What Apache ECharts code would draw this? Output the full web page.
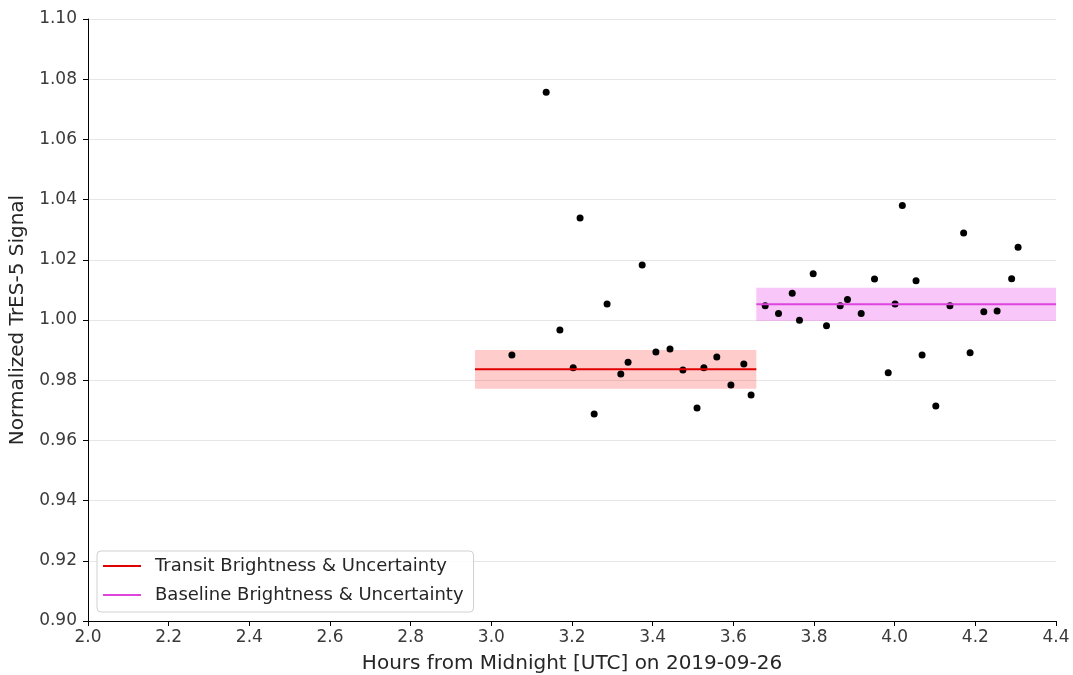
<!DOCTYPE html>
<html>
<head>
<meta charset="utf-8">
<script src="https://cdn.jsdelivr.net/npm/echarts@6/dist/echarts.min.js"></script>
<style>html,body{margin:0;padding:0;background:#fff}#chart{width:1073px;height:675px}</style>
</head>
<body>
<div id="chart"></div>
<script>
// Data
const transitX = [3.051, 3.136, 3.170, 3.203, 3.220, 3.255, 3.287, 3.321, 3.339, 3.374, 3.408, 3.443, 3.475, 3.510, 3.527, 3.559, 3.594, 3.626, 3.644];
const transitY = [0.9884, 1.0757, 0.9967, 0.9841, 1.0339, 0.9688, 1.0053, 0.9821, 0.9860, 1.0183, 0.9894, 0.9904, 0.9834, 0.9708, 0.9841, 0.9877, 0.9784, 0.9854, 0.9751];
const baselineX = [3.679, 3.712, 3.746, 3.764, 3.798, 3.831, 3.865, 3.883, 3.917, 3.950, 3.984, 4.001, 4.019, 4.053, 4.068, 4.102, 4.137, 4.171, 4.187, 4.221, 4.254, 4.290, 4.306];
const baselineY = [1.0047, 1.0022, 1.0089, 0.9999, 1.0154, 0.9981, 1.0047, 1.0068, 1.0022, 1.0136, 0.9825, 1.0053, 1.0380, 1.0130, 0.9884, 0.9714, 1.0047, 1.0289, 0.9891, 1.0027, 1.0030, 1.0137, 1.0242];
const transitMean = 0.9836, transitErr = 0.0064, transitStart = 2.9595, transitEnd = 3.657;
const baselineMean = 1.0052, baselineErr = 0.0055, baselineStart = 3.657, baselineEnd = 4.4;
const xTicks = [2.0, 2.2, 2.4, 2.6, 2.8, 3.0, 3.2, 3.4, 3.6, 3.8, 4.0, 4.2, 4.4];
const yTicks = [0.90, 0.92, 0.94, 0.96, 0.98, 1.00, 1.02, 1.04, 1.06, 1.08, 1.10];
const xLabel = 'Hours from Midnight [UTC] on 2019-09-26';
const yLabel = 'Normalized TrES-5 Signal';
const transitName = 'Transit Brightness & Uncertainty';
const baselineName = 'Baseline Brightness & Uncertainty';

const FONT = 'DejaVu Sans';
const points = transitX.map((x, i) => [x, transitY[i]]).concat(baselineX.map((x, i) => [x, baselineY[i]]));

const chart = echarts.init(document.getElementById('chart'), null, {renderer: 'canvas'});
chart.setOption({
  animation: false,
  backgroundColor: '#fff',
  grid: {left: 88, right: 17, top: 19, bottom: 54, containLabel: false, outerBoundsMode: 'none'},
  xAxis: {
    type: 'value', min: xTicks[0], max: xTicks[xTicks.length - 1], interval: 0.2,
    name: xLabel, nameLocation: 'middle', nameGap: 33,
    nameTextStyle: {fontFamily: FONT, fontSize: 20, color: '#262626'},
    axisLine: {show: true, onZero: false, lineStyle: {color: '#000', width: 1}},
    axisTick: {show: true, inside: false, length: 5, lineStyle: {color: '#000'}},
    axisLabel: {fontFamily: FONT, fontSize: 17, color: '#3a3a3a', margin: 8, formatter: v => v.toFixed(1)},
    splitLine: {show: false}
  },
  yAxis: {
    type: 'value', min: yTicks[0], max: yTicks[yTicks.length - 1], interval: 0.02,
    name: yLabel, nameLocation: 'middle', nameGap: 57, nameRotate: 90,
    nameTextStyle: {fontFamily: FONT, fontSize: 20, color: '#262626'},
    axisLine: {show: true, onZero: false, lineStyle: {color: '#000', width: 1}},
    axisTick: {show: true, inside: false, length: 5, lineStyle: {color: '#000'}},
    axisLabel: {fontFamily: FONT, fontSize: 17, color: '#3a3a3a', margin: 11, formatter: v => v.toFixed(2)},
    splitLine: {show: true, lineStyle: {color: '#e6e6e6', width: 1}}
  },
  legend: {
    left: 97, top: 551, orient: 'vertical',
    data: [transitName, baselineName],
    icon: 'rect', itemWidth: 38, itemHeight: 2, itemGap: 7,
    padding: [4, 10, 6, 6],
    borderColor: '#d0d0d0', borderWidth: 1, borderRadius: 4,
    backgroundColor: 'rgba(255,255,255,0.85)',
    textStyle: {fontFamily: FONT, fontSize: 18, color: '#262626', lineHeight: 22, padding: [0, 0, 0, 9]}
  },
  series: [
    {
      type: 'scatter', name: 'data', data: points, symbol: 'circle', symbolSize: 7,
      itemStyle: {color: '#000', opacity: 1}, z: 1, silent: true
    },
    {
      type: 'line', name: transitName, z: 3, symbol: 'none', showSymbol: false,
      data: [[transitStart, transitMean], [transitEnd, transitMean]],
      lineStyle: {color: '#e00000', width: 2}, itemStyle: {color: '#e00000'},
      markArea: {
        silent: true,
        itemStyle: {color: 'rgba(255,0,0,0.2)'},
        data: [[{coord: [transitStart, transitMean + transitErr]}, {coord: [transitEnd, transitMean - transitErr]}]]
      }
    },
    {
      type: 'line', name: baselineName, z: 3, symbol: 'none', showSymbol: false,
      data: [[baselineStart, baselineMean], [baselineEnd, baselineMean]],
      lineStyle: {color: '#dd44dd', width: 2}, itemStyle: {color: '#dd44dd'},
      markArea: {
        silent: true,
        itemStyle: {color: 'rgba(240,120,240,0.42)'},
        data: [[{coord: [baselineStart, baselineMean + baselineErr]}, {coord: [baselineEnd, baselineMean - baselineErr]}]]
      }
    }
  ]
});
</script>
</body>
</html>
